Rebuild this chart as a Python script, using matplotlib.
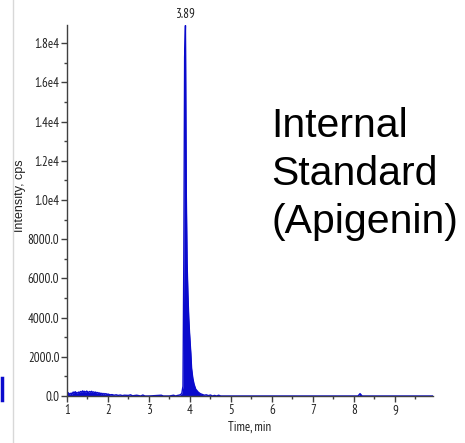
import matplotlib
matplotlib.use("Agg")
import matplotlib.pyplot as plt
from matplotlib import font_manager as fm
from matplotlib.font_manager import FontProperties
from matplotlib.textpath import TextPath
from matplotlib.ticker import MultipleLocator, FixedLocator, FixedFormatter
from matplotlib.lines import Line2D

# ---- data ----
t_before = [1.00, 1.02, 1.05, 1.08, 1.10, 1.12, 1.15, 1.18, 1.20, 1.22, 1.25, 1.28, 1.30,
            1.33, 1.35, 1.38, 1.40, 1.42, 1.45, 1.48, 1.50, 1.52, 1.55, 1.58, 1.60, 1.62,
            1.65, 1.68, 1.70, 1.72, 1.75, 1.78, 1.80, 1.82, 1.85, 1.88, 1.90, 1.92, 1.95,
            1.98, 2.00, 2.05, 2.10, 2.15, 2.20, 2.25, 2.30, 2.35, 2.40, 2.50, 2.55, 2.60,
            2.70, 2.80, 2.85, 2.90, 3.00, 3.30, 3.35, 3.50, 3.60, 3.65, 3.70, 3.75, 3.80]
i_before = [60, 180, 120, 100, 150, 90, 200, 160, 220, 180, 150, 200, 170,
            230, 190, 260, 210, 240, 200, 250, 220, 180, 230, 200, 240, 190,
            210, 170, 200, 150, 180, 130, 160, 110, 140, 90, 130, 100, 120,
            80, 100, 60, 70, 40, 60, 30, 50, 20, 40, 30, 60, 10,
            40, 0, 50, 0, 0, 40, 0, 0, 40, 0, 30, 50, 120]

t_peak = [3.83, 3.85, 3.87, 3.89, 3.91, 3.93, 3.95, 3.97, 3.99, 4.02, 4.04, 4.07,
          4.10, 4.14, 4.20, 4.25, 4.30]
i_peak = [500, 7000, 17300, 18900, 10400, 6800, 5200, 4000, 3200, 2200, 1400, 900,
          600, 350, 200, 120, 80]

t_after = [4.35, 4.40, 4.45, 4.50, 4.55, 4.60, 4.65, 4.70, 4.75, 5.00, 6.00, 7.00,
           8.10, 8.15, 8.20, 9.00, 9.93]
i_after = [40, 60, 20, 50, 0, 30, 0, 40, 0, 0, 0, 0,
           0, 120, 0, 0, 0]

peak_label = "3.89"
peak_rt = 3.89
peak_height = 18900

y_ticks = [0, 2000, 4000, 6000, 8000, 10000, 12000, 14000, 16000, 18000]
y_labels = ["0.0", "2000.0", "4000.0", "6000.0", "8000.0",
            "1.0e4", "1.2e4", "1.4e4", "1.6e4", "1.8e4"]
x_ticks = [1, 2, 3, 4, 5, 6, 7, 8, 9]

# ---- fonts ----
available = set(f.name for f in fm.fontManager.ttflist)
narrow_name = next((n for n in ["Liberation Sans Narrow", "Arial Narrow", "PT Sans Narrow",
                                "Archivo Narrow", "Roboto Condensed", "Open Sans Condensed",
                                "Liberation Sans"] if n in available), "DejaVu Sans")
narrow = [narrow_name, "DejaVu Sans"]
regular = ["Liberation Sans", "DejaVu Sans"]

# size so that "8000.0" is ~30 px wide, as in the reference
_w = TextPath((0, 0), "8000.0", size=10, prop=FontProperties(family=narrow_name)).get_extents().width
small = max(7.0, min(10.0, 10 * 30 / (_w * 100 / 72)))

# ---- figure ----
times = t_before + t_peak + t_after
inten = i_before + i_peak + i_after

fig = plt.figure(figsize=(4.65, 4.43), dpi=100)
ax = fig.add_axes([67 / 465, 47 / 443, 366 / 465, 371 / 443])

blue = "#0A0ACD"
ax.fill_between(times, inten, 0, color=blue, linewidth=0)
ax.plot(times, inten, color=blue, linewidth=1.0)

ax.set_xlim(1.0, 9.93)
ax.set_ylim(0, 18930)

axis_col = "#404040"
for s in ["top", "right"]:
    ax.spines[s].set_visible(False)
for s in ["left", "bottom"]:
    ax.spines[s].set_color(axis_col)
    ax.spines[s].set_linewidth(1.0)

ax.yaxis.set_major_locator(FixedLocator(y_ticks))
ax.yaxis.set_major_formatter(FixedFormatter(y_labels))
ax.yaxis.set_minor_locator(MultipleLocator(1000))
ax.xaxis.set_major_locator(FixedLocator(x_ticks))
ax.xaxis.set_minor_locator(MultipleLocator(0.5))

ax.tick_params(which="major", length=4, width=1, color=axis_col, pad=1.5,
               labelsize=small, labelcolor="#222222")
ax.tick_params(which="minor", length=2, width=1, color=axis_col)
for lab in ax.get_xticklabels() + ax.get_yticklabels():
    lab.set_family(narrow)

ax.set_xlabel("Time, min", family=narrow, fontsize=small, color="#222222", labelpad=3)
ax.set_ylabel("Intensity, cps", family=regular, fontsize=9, color="#222222")
ax.yaxis.set_label_coords(-0.112, 0.54)

ax.annotate(peak_label, xy=(peak_rt, peak_height), xytext=(0, 3),
            textcoords="offset points", ha="center", va="bottom",
            family=narrow, fontsize=small, color="#222222", annotation_clip=False)

fig.text(271 / 465, 1 - 233 / 443, "Internal\nStandard\n(Apigenin)",
         family=regular, fontsize=29.5,
         ha="left", va="baseline", linespacing=1.34, color="black")

# cropping artefacts on the left edge of the reference
fig.add_artist(Line2D([13 / 465, 13 / 465], [0, 1], transform=fig.transFigure,
                      color="#d8d8d8", linewidth=1))
fig.add_artist(Line2D([1.5 / 465, 1.5 / 465], [1 - 400 / 443, 1 - 378 / 443],
                      transform=fig.transFigure, color=blue, linewidth=2.5))

fig.savefig("out.png", dpi=100)
